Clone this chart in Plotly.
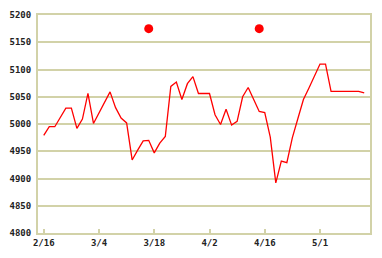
import plotly.graph_objects as go

# trading-day index, values
idx = list(range(59))
values = [4979, 4995, 4995, 5012, 5029, 5029, 4992, 5009, 5056, 5001,
          5020, 5040, 5059, 5030, 5011, 5002, 4934, 4952, 4969, 4970,
          4947, 4965, 4977, 5069, 5077, 5045, 5074, 5087, 5056, 5056,
          5056, 5017, 4999, 5027, 4998, 5005, 5050, 5067, 5045, 5023,
          5021, 4976, 4892, 4932, 4929, 4975, 5010, 5045, 5066, 5087,
          5110, 5110, 5060, 5060, 5060, 5060, 5060, 5060, 5057]

marker_idx = [19, 39]
marker_vals = [5175, 5175]

tick_idx = [0, 10, 20, 30, 40, 50]
tick_labels = ["2/16", "3/4", "3/18", "4/2", "4/16", "5/1"]

grid = "#d2d2a8"
font = dict(family="DejaVu Sans Mono", size=9, color="#222222", weight="bold")

fig = go.Figure()
fig.add_trace(go.Scatter(x=idx, y=values, mode="lines",
                         line=dict(color="#ff0000", width=1.3),
                         hoverinfo="skip"))
fig.add_trace(go.Scatter(x=marker_idx, y=marker_vals, mode="markers",
                         marker=dict(color="#ff0000", size=9),
                         hoverinfo="skip"))

fig.update_layout(
    width=382, height=258,
    margin=dict(l=34, r=11, t=10, b=23),
    paper_bgcolor="white", plot_bgcolor="white",
    showlegend=False,
    xaxis=dict(range=[-1.04, 59.05], tickvals=tick_idx, ticktext=tick_labels,
               showgrid=False, zeroline=False, showline=True, linecolor=grid,
               linewidth=2, mirror=True, ticks="inside", ticklen=4,
               tickcolor=grid, tickwidth=2, tickfont=font),
    yaxis=dict(range=[4800, 5200], dtick=50, showgrid=True, gridcolor=grid,
               gridwidth=2, zeroline=False, showline=True, linecolor=grid,
               linewidth=2, mirror=True, ticks="", tickfont=font,
               ticklabelstandoff=3),
)

fig.write_html("out.html")
